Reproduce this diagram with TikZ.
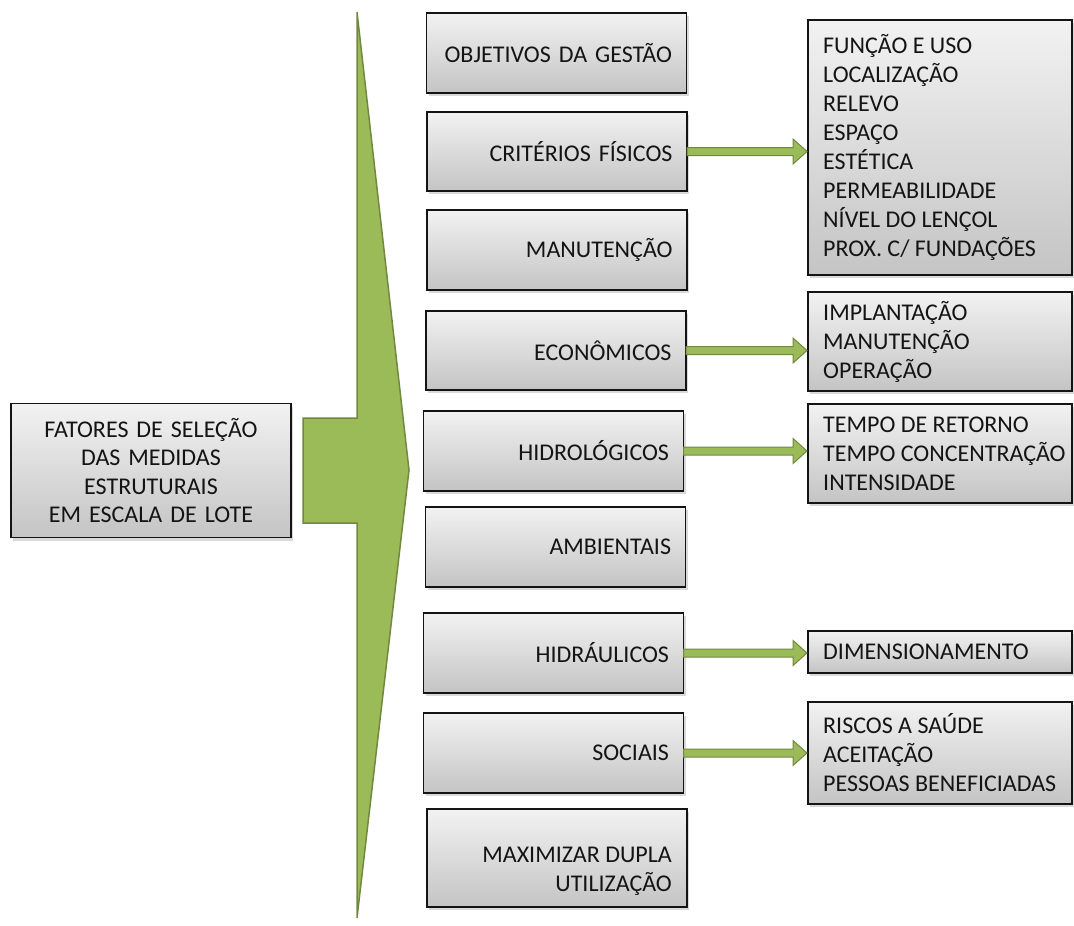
\documentclass[tikz,border=0pt]{standalone}
\usepackage{fontspec}
\setmainfont{Carlito}
\usetikzlibrary{calc,shadows}
\definecolor{leaf}{HTML}{9BBB59}
\definecolor{leafdark}{HTML}{71893F}
\definecolor{boxtop}{HTML}{F2F2F2}
\definecolor{boxbot}{HTML}{C4C4C4}
\definecolor{ink}{HTML}{141414}

% thin green block arrow from the east side of one box to the west side of another
\newcommand\leafarrow[2]{%
  \path[fill=leaf, draw=leafdark, line width=1pt, line join=miter]
    let \p1=(#1.east), \p2=(#2.west) in
    (\x1,\y1+4pt) -- (\x2-15pt,\y1+4pt) -- (\x2-15pt,\y1+12.5pt) -- (\x2-1pt,\y1)
    -- (\x2-15pt,\y1-12.5pt) -- (\x2-15pt,\y1-4pt) -- (\x1,\y1-4pt) -- cycle;}

\begin{document}
\begin{tikzpicture}[x=1pt, y=-1pt,
  panel/.style={draw=ink, line width=1.4pt, top color=boxtop, bottom color=boxbot,
    drop shadow={shadow xshift=2pt, shadow yshift=-3pt, opacity=0.3},
    inner sep=0pt, outer sep=0pt, text=ink, font=\fontsize{24}{29}\selectfont},
  factor/.style={panel, minimum width=260pt, minimum height=80pt, text width=231pt, align=right},
  detail/.style={panel, minimum width=264pt},
  label/.style={text=ink, inner sep=0pt, font=\fontsize{24}{29}\selectfont},
  itemlist/.style={label, anchor=west, align=left}]

\useasboundingbox (0,0) rectangle (1074,926);

% big green brace-like arrow
\path[fill=leaf, draw=leafdark, line width=1.5pt, line join=miter]
  (357,12) -- (409,470) -- (357,918) -- (357,523) -- (303,523)
  -- (303,418) -- (357,418) -- cycle;

% root box
\node[panel, minimum width=280pt, minimum height=134pt, text width=270pt, align=center,
  font=\fontsize{24}{28.5}\selectfont] (root) at (151,470.5)
  {FATORES DE SELEÇÃO\\DAS MEDIDAS\\ESTRUTURAIS\\EM ESCALA DE LOTE};

% factor boxes
\node[factor] (b1) at (556.5,53) {OBJETIVOS DA GESTÃO};
\node[factor, minimum height=79pt] (b2) at (557,151.5) {CRITÉRIOS FÍSICOS};
\node[factor] (b3) at (557,250) {MANUTENÇÃO};
\node[factor, minimum height=79pt] (b4) at (556,350.5) {ECONÔMICOS};
\node[factor] (b5) at (553.5,451) {HIDROLÓGICOS};
\node[factor] (b6) at (555.5,547) {AMBIENTAIS};
\node[factor] (b7) at (553.5,653) {HIDRÁULICOS};
\node[factor] (b8) at (553.5,753) {SOCIAIS};
\node[factor, minimum height=98pt] (b9) at (557,858) {};
\node[label, anchor=east, align=right] (t9) at ($(b9.east)+(-15,13.5)$)
  {MAXIMIZAR DUPLA\\UTILIZAÇÃO};

% detail boxes and their item lists
\node[detail, minimum height=255pt] (r1) at (940,147.5) {};
\node[itemlist] (l1) at ($(r1.west)+(15,0)$)
  {FUNÇÃO E USO\\LOCALIZAÇÃO\\RELEVO\\ESPAÇO\\ESTÉTICA\\PERMEABILIDADE\\NÍVEL DO LENÇOL\\PROX. C/ FUNDAÇÕES};
\node[detail, minimum height=99pt] (r2) at (940,341.5) {};
\node[itemlist] (l2) at ($(r2.west)+(15,0)$)
  {IMPLANTAÇÃO\\MANUTENÇÃO\\OPERAÇÃO};
\node[detail, minimum height=99pt] (r3) at (940,453.5) {};
\node[itemlist] (l3) at ($(r3.west)+(15,0)$)
  {TEMPO DE RETORNO\\TEMPO CONCENTRAÇÃO\\INTENSIDADE};
\node[detail, minimum height=42pt] (r4) at (940,652) {};
\node[itemlist] (l4) at ($(r4.west)+(15,0)$)
  {DIMENSIONAMENTO};
\node[detail, minimum height=102pt] (r5) at (940,753) {};
\node[itemlist] (l5) at ($(r5.west)+(15,0)$)
  {RISCOS A SAÚDE\\ACEITAÇÃO\\PESSOAS BENEFICIADAS};

% connectors
\leafarrow{b2}{r1}
\leafarrow{b4}{r2}
\leafarrow{b5}{r3}
\leafarrow{b7}{r4}
\leafarrow{b8}{r5}
\end{tikzpicture}
\end{document}
